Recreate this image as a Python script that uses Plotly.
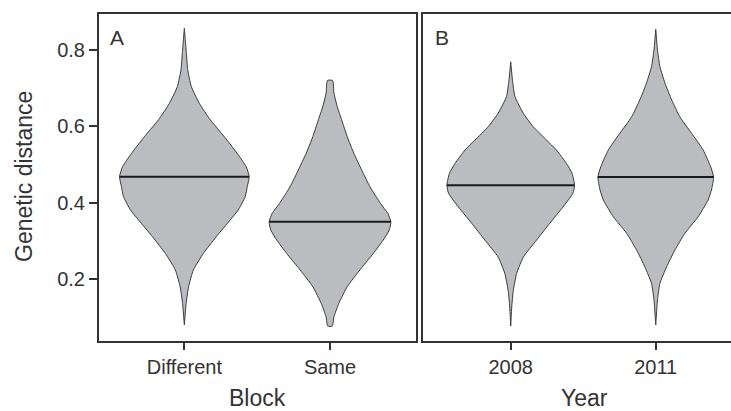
import plotly.graph_objects as go

# ---------------- data ----------------
block_categories = ["Different", "Same"]
year_categories = ["2008", "2011"]
y_ticks = [0.2, 0.4, 0.6, 0.8]

# Violin profiles: genetic distance levels and half-widths (category units)
different_y = [0.080, 0.136, 0.180, 0.224, 0.267, 0.311, 0.355, 0.381, 0.416, 0.442,
               0.468, 0.494, 0.529, 0.573, 0.617, 0.660, 0.704, 0.748, 0.791, 0.857]
different_hw = [0.0, 0.012, 0.029, 0.062, 0.130, 0.219, 0.315, 0.370, 0.418, 0.432,
                0.445, 0.425, 0.363, 0.274, 0.178, 0.103, 0.048, 0.023, 0.014, 0.0]

same_y = [0.077, 0.101, 0.136, 0.180, 0.224, 0.267, 0.302, 0.328, 0.350, 0.372,
          0.398, 0.442, 0.486, 0.529, 0.573, 0.617, 0.651, 0.687, 0.720]
same_hw = [0.016, 0.027, 0.060, 0.118, 0.205, 0.297, 0.365, 0.406, 0.418, 0.397,
           0.347, 0.274, 0.217, 0.164, 0.118, 0.080, 0.050, 0.027, 0.018]

y2008_y = [0.077, 0.127, 0.171, 0.215, 0.258, 0.302, 0.346, 0.389, 0.425, 0.446,
           0.477, 0.503, 0.538, 0.564, 0.599, 0.634, 0.678, 0.721, 0.769]
y2008_hw = [0.0, 0.007, 0.018, 0.041, 0.087, 0.178, 0.269, 0.361, 0.429, 0.440,
            0.423, 0.384, 0.315, 0.247, 0.155, 0.087, 0.029, 0.012, 0.0]

y2011_y = [0.080, 0.145, 0.189, 0.232, 0.276, 0.320, 0.363, 0.407, 0.433, 0.467,
           0.494, 0.538, 0.582, 0.625, 0.669, 0.713, 0.756, 0.800, 0.854]
y2011_hw = [0.0, 0.012, 0.029, 0.075, 0.132, 0.201, 0.292, 0.361, 0.384, 0.399,
            0.379, 0.327, 0.247, 0.166, 0.110, 0.064, 0.029, 0.012, 0.0]

medians = {"Different": 0.468, "Same": 0.350, "2008": 0.446, "2011": 0.467}

# ---------------- figure ----------------
FILL = "#bbbcc0"
EDGE = "#3a3a3a"
AX = "#333333"
FONT = "Liberation Sans, Arial, sans-serif"

fig = go.Figure()


def add_violin(pos, ys, hws, med, xa, ya):
    xs = [pos + h for h in hws] + [pos - h for h in reversed(hws)]
    yy = list(ys) + list(reversed(ys))
    xs.append(xs[0])
    yy.append(yy[0])
    fig.add_trace(go.Scatter(x=xs, y=yy, mode="lines", fill="toself",
                             fillcolor=FILL,
                             line=dict(color=EDGE, width=1, shape="spline", smoothing=0.5),
                             xaxis=xa, yaxis=ya, hoverinfo="skip", showlegend=False))
    hw = hws[0]
    for i in range(len(ys) - 1):
        if ys[i] <= med <= ys[i + 1]:
            t = (med - ys[i]) / (ys[i + 1] - ys[i])
            hw = hws[i] + t * (hws[i + 1] - hws[i])
            break
    fig.add_trace(go.Scatter(x=[pos - hw, pos + hw], y=[med, med], mode="lines",
                             line=dict(color="#1a1a1a", width=2),
                             xaxis=xa, yaxis=ya, hoverinfo="skip", showlegend=False))


add_violin(1, different_y, different_hw, medians["Different"], "x", "y")
add_violin(2, same_y, same_hw, medians["Same"], "x", "y")
add_violin(1, y2008_y, y2008_hw, medians["2008"], "x2", "y2")
add_violin(2, y2011_y, y2011_hw, medians["2011"], "x2", "y2")

W, H = 731, 411
L, R, T, B = 99, 0, 14, 70
pw = W - L - R
ph = H - T - B
dA = [0, (415.5 - L) / pw]
dB = [(422.7 - L) / pw, 1]

tickfont = dict(family=FONT, size=20, color="#333333")
yr = [0.038, 0.894]

common = dict(showgrid=False, zeroline=False, showline=True,
              linecolor=AX, linewidth=2, tickcolor=AX, tickfont=tickfont)

fig.update_layout(
    width=W, height=H,
    margin=dict(l=L, r=R, t=T, b=B),
    paper_bgcolor="white", plot_bgcolor="white",
    font=dict(family=FONT, color="#333333"),
    xaxis=dict(domain=dA, range=[0.414, 2.587], tickvals=[1, 2], ticktext=block_categories,
               mirror=True, ticks="outside", ticklen=7, tickwidth=2, anchor="y", **common),
    yaxis=dict(domain=[0, 1], range=yr, tickvals=y_ticks,
               ticktext=[f"{v:.1f}" for v in y_ticks],
               mirror=True, ticks="outside", ticklen=8, tickwidth=2, anchor="x", **common),
    xaxis2=dict(domain=dB, range=[0.393, 2.519], tickvals=[1, 2], ticktext=year_categories,
                mirror=True, ticks="outside", ticklen=7, tickwidth=2, anchor="y2", **common),
    yaxis2=dict(domain=[0, 1], range=yr, showticklabels=False, ticks="",
                mirror=False, anchor="x2", **common),
)


def page_ann(text, px, py, size, angle=0):
    fig.add_annotation(text=text, x=(px - L) / pw, y=1 - (py - T) / ph,
                       xref="paper", yref="paper", showarrow=False,
                       font=dict(family=FONT, size=size, color="#333333"),
                       textangle=angle, xanchor="center", yanchor="middle")


page_ann("Block", 257, 398, 23)
page_ann("Year", 584, 398, 23)
page_ann("Genetic distance", 24, 177, 23, angle=-90)
page_ann("A", 117, 37, 21)
page_ann("B", 442, 37, 21)

fig.write_html("out.html")
